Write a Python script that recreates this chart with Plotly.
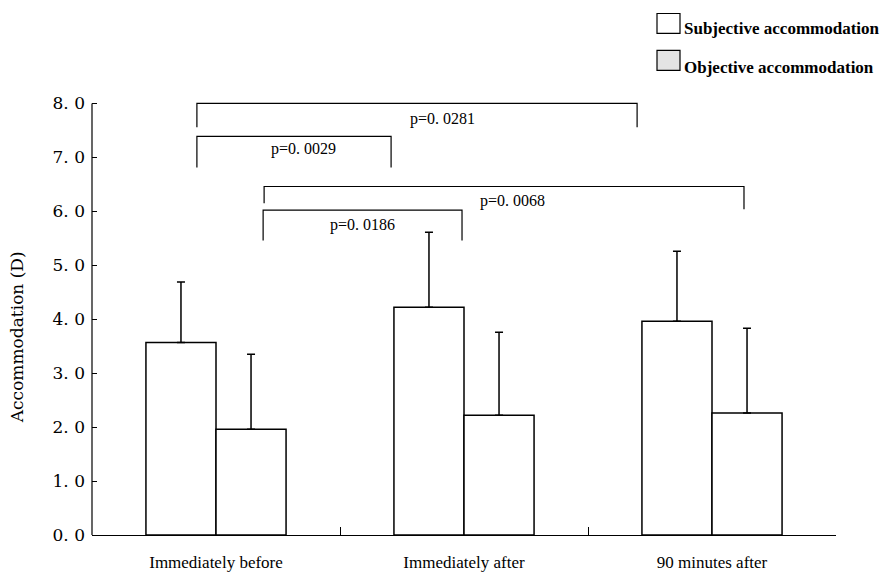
import plotly.graph_objects as go

# ---- data ----
categories = ["Immediately before", "Immediately after", "90 minutes after"]
subjective_mean = [3.57, 4.22, 3.96]
subjective_sd = [1.12, 1.39, 1.30]
objective_mean = [1.96, 2.22, 2.26]
objective_sd = [1.39, 1.54, 1.57]
y_tick_values = [0, 1, 2, 3, 4, 5, 6, 7, 8]
y_tick_labels = ["0. 0", "1. 0", "2. 0", "3. 0", "4. 0", "5. 0", "6. 0", "7. 0", "8. 0"]
p_labels = ["p=0. 0281", "p=0. 0029", "p=0. 0068", "p=0. 0186"]

# ---- layout geometry (bracket placement in axis units) ----
brackets = [
    # x0, x1, top, left-bottom, right-bottom, text x, text y
    (-0.077, 1.698, 8.00, 7.56, 7.56, 0.915, 7.72),
    (-0.077, 0.706, 7.39, 6.81, 6.81, 0.351, 7.15),
    (0.194, 2.129, 6.46, 6.15, 6.04, 1.194, 6.20),
    (0.190, 0.992, 6.02, 5.46, 5.46, 0.589, 5.74),
]

W, H = 882, 579
ML, MR, MB = 92, 46, 44
YMAX = 8.1
px_per_unit = 54.0
plot_h = YMAX * px_per_unit
MT = H - MB - plot_h
plot_w = W - ML - MR

def paper_x(px):
    return (px - ML) / plot_w

def paper_y(py):
    return (H - MB - py) / plot_h

serif = "'Liberation Serif', 'Times New Roman', serif"
wide_serif = "'DejaVu Serif', serif"

fig = go.Figure()
fig.add_trace(go.Bar(
    x=categories, y=subjective_mean, name="Subjective accommodation",
    marker=dict(color="white", line=dict(color="black", width=1.5)),
    error_y=dict(type="data", array=subjective_sd, arrayminus=[0] * len(subjective_sd),
                 symmetric=False, color="black", thickness=1.5, width=4),
))
fig.add_trace(go.Bar(
    x=categories, y=objective_mean, name="Objective accommodation",
    marker=dict(color="white", line=dict(color="black", width=1.5)),
    error_y=dict(type="data", array=objective_sd, arrayminus=[0] * len(objective_sd),
                 symmetric=False, color="black", thickness=1.5, width=4),
))

shapes = []
annotations = []
for (x0, x1, top, lb, rb, tx, ty), lab in zip(brackets, p_labels):
    shapes.append(dict(type="path", xref="x", yref="y",
                       path=f"M {x0},{lb} L {x0},{top} L {x1},{top} L {x1},{rb}",
                       line=dict(color="black", width=1.2)))
    annotations.append(dict(x=tx, y=ty, xref="x", yref="y", text=lab, showarrow=False,
                            font=dict(family=serif, size=16, color="black")))

# y axis line (0 to 8)
shapes.append(dict(type="line", xref="paper", yref="y", x0=0, x1=0, y0=0, y1=8,
                   line=dict(color="black", width=1.2)))

# legend swatches
shapes.append(dict(type="rect", xref="paper", yref="paper",
                   x0=paper_x(657), x1=paper_x(680), y0=paper_y(33), y1=paper_y(13),
                   fillcolor="white", line=dict(color="black", width=1.2)))
shapes.append(dict(type="rect", xref="paper", yref="paper",
                   x0=paper_x(657), x1=paper_x(680), y0=paper_y(70), y1=paper_y(50),
                   fillcolor="#e4e4e4", line=dict(color="black", width=1.2)))
annotations.append(dict(x=paper_x(682), y=paper_y(28), xref="paper", yref="paper",
                        text="<b>Subjective accommodation</b>", showarrow=False,
                        xanchor="left", yanchor="middle",
                        font=dict(family=serif, size=17, color="black")))
annotations.append(dict(x=paper_x(682), y=paper_y(67), xref="paper", yref="paper",
                        text="<b>Objective accommodation</b>", showarrow=False,
                        xanchor="left", yanchor="middle",
                        font=dict(family=serif, size=17, color="black")))

# y axis title
annotations.append(dict(x=paper_x(17), y=paper_y(337), xref="paper", yref="paper",
                        text="Accommodation (D)", showarrow=False, textangle=-90,
                        xanchor="center", yanchor="middle",
                        font=dict(family=wide_serif, size=17, color="black")))

fig.update_layout(
    width=W, height=H,
    margin=dict(l=ML, r=MR, t=MT, b=MB, pad=0, autoexpand=False),
    paper_bgcolor="white", plot_bgcolor="white",
    barmode="group", bargap=0.435, bargroupgap=0,
    showlegend=False,
    shapes=shapes, annotations=annotations,
    xaxis=dict(type="category", tickson="boundaries", ticks="inside", ticklen=8,
               tickcolor="black", showline=True, linecolor="black", linewidth=1.2,
               showgrid=False, zeroline=False, range=[-0.5, 2.5], automargin=False,
               tickfont=dict(family=serif, size=17, color="black"),
               ticklabelstandoff=11),
    yaxis=dict(range=[0, YMAX], tickvals=y_tick_values, ticktext=y_tick_labels,
               ticks="inside", ticklen=5, tickcolor="black", showline=False,
               showgrid=False, zeroline=False, automargin=False,
               tickfont=dict(family=wide_serif, size=17, color="black"),
               ticklabelstandoff=6),
)

fig.write_html("out.html")
